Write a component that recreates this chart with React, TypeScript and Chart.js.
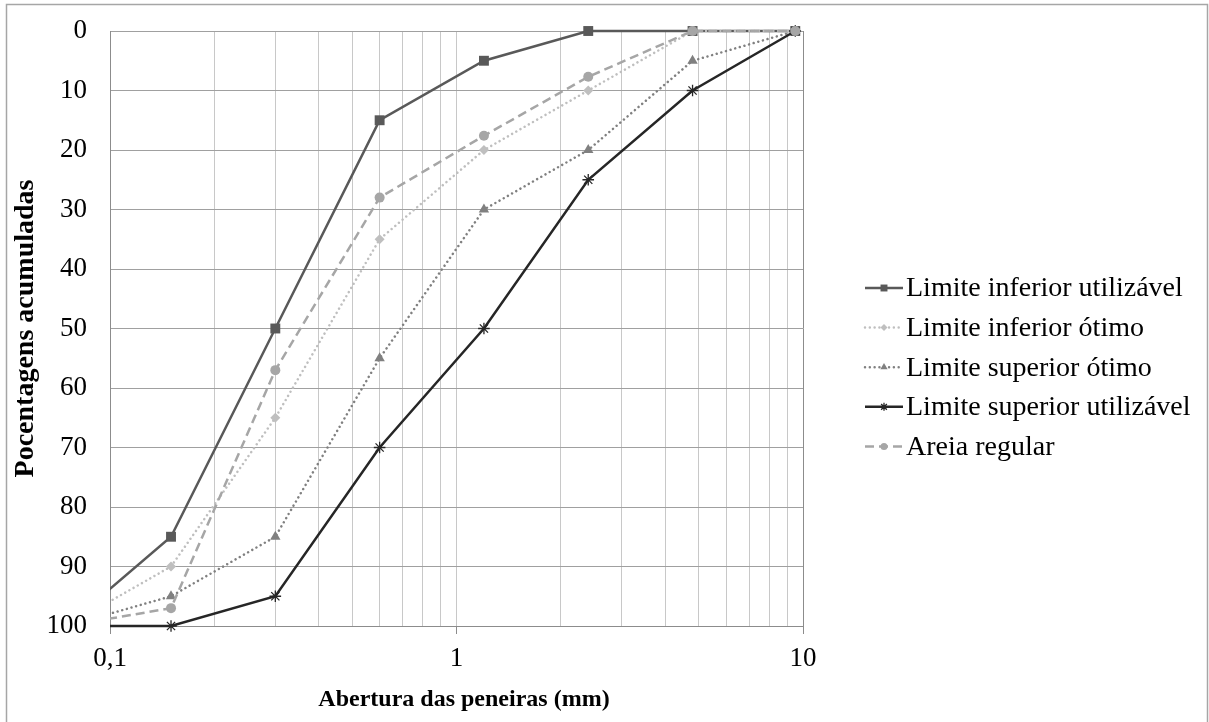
import React, { useEffect, useRef } from 'react';
import { Chart, registerables } from 'chart.js';
import { drawPoint } from 'chart.js/helpers';

Chart.register(...registerables);

// Sieve openings (mm) and cumulative retained percentages
const sieveSizes = [0.075, 0.15, 0.3, 0.6, 1.2, 2.4, 4.8, 9.5];
const limiteInferiorUtilizavel = [100, 85, 50, 15, 5, 0, 0, 0];
const limiteInferiorOtimo = [100, 90, 65, 35, 20, 10, 0, 0];
const limiteSuperiorOtimo = [100, 95, 85, 55, 30, 20, 5, 0];
const limiteSuperiorUtilizavel = [100, 100, 95, 70, 50, 25, 10, 0];
const areiaRegular = [100, 97, 57, 28, 17.6, 7.7, 0, 0];

const seriesNames = [
  'Limite inferior utilizável',
  'Limite inferior ótimo',
  'Limite superior ótimo',
  'Limite superior utilizável',
  'Areia regular',
];

const xTickValues = [0.1, 0.2, 0.3, 0.4, 0.5, 0.6, 0.7, 0.8, 0.9, 1, 2, 3, 4, 5, 6, 7, 8, 9, 10];
const xTickLabels: Record<string, string> = { '0.1': '0,1', '1': '1', '10': '10' };
const xMajorTicks = [0.1, 1, 10];

const xTitle = 'Abertura das peneiras (mm)';
const yTitle = 'Pocentagens acumuladas';

const FONT = "'Times New Roman', 'Liberation Serif', serif";

type Style = {
  color: string;
  dash: number[];
  cap: CanvasLineCap;
  pointStyle: string;
  radius: number;
  pointBorder: number;
};

const styles: Style[] = [
  { color: '#595959', dash: [], cap: 'butt', pointStyle: 'rect', radius: 7, pointBorder: 0 },
  { color: '#bfbfbf', dash: [0.01, 4.8], cap: 'round', pointStyle: 'rectRot', radius: 5, pointBorder: 0 },
  { color: '#808080', dash: [0.01, 4.8], cap: 'round', pointStyle: 'triangle', radius: 6, pointBorder: 0 },
  { color: '#262626', dash: [], cap: 'butt', pointStyle: 'star', radius: 5.8, pointBorder: 1.3 },
  { color: '#a6a6a6', dash: [9, 5], cap: 'butt', pointStyle: 'circle', radius: 5, pointBorder: 0 },
];

const seriesValues = [
  limiteInferiorUtilizavel,
  limiteInferiorOtimo,
  limiteSuperiorOtimo,
  limiteSuperiorUtilizavel,
  areiaRegular,
];

// Outer frame around the whole figure
const framePlugin = {
  id: 'frame',
  beforeDraw(chart: any) {
    const ctx = chart.ctx;
    ctx.save();
    ctx.fillStyle = '#ffffff';
    ctx.fillRect(0, 0, chart.width, chart.height);
    ctx.strokeStyle = '#a6a6a6';
    ctx.lineWidth = 1.5;
    ctx.strokeRect(6.5, 4.5, 1201, 740);
    ctx.restore();
  },
};

// Horizontal axis title and the legend to the right of the plot
const annotationsPlugin = {
  id: 'sideLegend',
  afterDraw(chart: any) {
    const ctx = chart.ctx;
    ctx.save();

    ctx.fillStyle = '#000000';
    ctx.font = `bold 24px ${FONT}`;
    ctx.textAlign = 'center';
    ctx.textBaseline = 'middle';
    ctx.fillText(xTitle, 464, 700);

    const x0 = 865;
    const x1 = 903;
    const top = 288;
    const step = 39.6;
    seriesNames.forEach((name, i) => {
      const s = styles[i];
      const y = top + i * step;
      ctx.strokeStyle = s.color;
      ctx.lineWidth = 2.5;
      ctx.lineCap = s.cap;
      ctx.setLineDash(s.dash);
      ctx.beginPath();
      ctx.moveTo(x0, y);
      ctx.lineTo(x1, y);
      ctx.stroke();
      ctx.setLineDash([]);
      ctx.lineCap = 'butt';
      ctx.fillStyle = s.color;
      ctx.strokeStyle = s.color;
      ctx.lineWidth = s.pointBorder;
      drawPoint(ctx, { pointStyle: s.pointStyle as any, radius: s.radius * 0.7, rotation: 0, borderWidth: s.pointBorder }, (x0 + x1) / 2, y);
      ctx.fillStyle = '#000000';
      ctx.font = `28px ${FONT}`;
      ctx.textAlign = 'left';
      ctx.textBaseline = 'middle';
      ctx.fillText(name, 906, y + 1);
    });
    ctx.restore();
  },
};

export default function App() {
  const canvasRef = useRef<HTMLCanvasElement | null>(null);

  useEffect(() => {
    const canvas = canvasRef.current;
    if (!canvas) return;

    const datasets = seriesValues.map((vals, i) => {
      const s = styles[i];
      return {
        label: seriesNames[i],
        data: sieveSizes.map((x, j) => ({ x, y: vals[j] })),
        borderColor: s.color,
        backgroundColor: s.color,
        borderWidth: 2.5,
        borderDash: s.dash,
        borderCapStyle: s.cap,
        pointStyle: s.pointStyle,
        pointRadius: s.radius,
        pointBorderWidth: s.pointBorder,
        pointBorderColor: s.color,
        pointBackgroundColor: s.color,
        tension: 0,
        order: seriesNames.length - i,
        clip: { left: 0, top: 12, right: 12, bottom: 12 },
      };
    });

    const chart = new Chart(canvas, {
      type: 'line',
      data: { datasets: datasets as any },
      plugins: [framePlugin, annotationsPlugin],
      options: {
        animation: false,
        responsive: false,
        devicePixelRatio: 1,
        layout: { padding: { left: 0, top: 31, right: 406, bottom: 0 } },
        plugins: {
          legend: { display: false },
          tooltip: { enabled: false },
        },
        scales: {
          x: {
            type: 'logarithmic',
            min: 0.1,
            max: 10,
            afterBuildTicks(scale: any) {
              scale.ticks = xTickValues.map((v) => ({ value: v }));
            },
            afterFit(scale: any) {
              scale.height = 96;
              scale.paddingLeft = 0;
              scale.paddingRight = 0;
            },
            ticks: {
              autoSkip: false,
              maxRotation: 0,
              minRotation: 0,
              padding: 9,
              color: '#000000',
              font: { family: FONT, size: 27 },
              callback: (value: any) => xTickLabels[String(value)] ?? '',
            },
            grid: {
              drawTicks: true,
              tickLength: 8,
              tickColor: (ctx: any) =>
                ctx.tick && xMajorTicks.includes(ctx.tick.value) ? '#8c8c8c' : 'rgba(0,0,0,0)',
              color: (ctx: any) => {
                const v = ctx.tick ? ctx.tick.value : 0;
                if (v === 10) return '#8c8c8c';
                return '#c8c8c8';
              },
              lineWidth: 1,
            },
            border: { display: true, color: '#8c8c8c', width: 1 },
            title: { display: false },
          },
          y: {
            type: 'linear',
            reverse: true,
            min: 0,
            max: 100,
            afterFit(scale: any) {
              scale.width = 110;
              scale.paddingTop = 0;
              scale.paddingBottom = 0;
            },
            ticks: {
              stepSize: 10,
              padding: 23,
              color: '#000000',
              font: { family: FONT, size: 27 },
            },
            grid: {
              drawTicks: false,
              color: '#a0a0a0',
              lineWidth: 1,
            },
            border: { display: true, color: '#8c8c8c', width: 1 },
            title: {
              display: true,
              text: yTitle,
              color: '#000000',
              font: { family: FONT, size: 28, weight: 'bold' },
              padding: { top: 9, bottom: 0 },
            },
          },
        },
      },
    });

    return () => {
      chart.destroy();
    };
  }, []);

  return (
    <canvas
      ref={canvasRef}
      width={1209}
      height={722}
      style={{ position: 'absolute', left: 0, top: 0, width: 1209, height: 722, display: 'block' }}
    />
  );
}
